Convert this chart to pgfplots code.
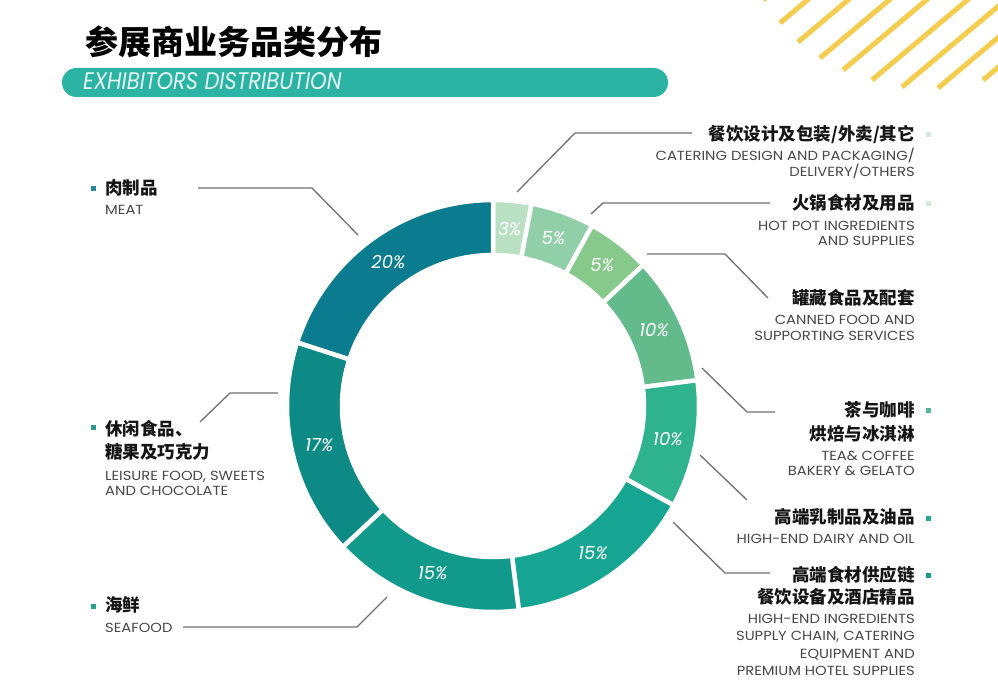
\documentclass[border=0pt]{standalone}
\usepackage{pgfplots}
\pgfplotsset{compat=1.18}
\usepackage{pgfplotstable}
\usepackage{fontspec}
\setmainfont{Poppins}
\newfontfamily\cjk{Noto Sans CJK SC}

\definecolor{seg1}{HTML}{B9E0C3}
\definecolor{seg2}{HTML}{91CFA9}
\definecolor{seg3}{HTML}{86C98A}
\definecolor{seg4}{HTML}{63BA8A}
\definecolor{seg5}{HTML}{2FB38F}
\definecolor{seg6}{HTML}{16A592}
\definecolor{seg7}{HTML}{119A8C}
\definecolor{seg8}{HTML}{0E8A86}
\definecolor{seg9}{HTML}{0B7B8F}
\definecolor{leader}{HTML}{707070}
\definecolor{bar}{HTML}{2BB3A4}
\definecolor{stripe}{HTML}{F4CD4E}
\definecolor{entxt}{HTML}{474747}
\definecolor{zhtxt}{HTML}{151515}

% share of exhibitors (%), clockwise from 12 o'clock
\pgfplotstableread{
cum pct col
0  3  seg1
3  5  seg2
8  5  seg3
13 10 seg4
23 10 seg5
33 15 seg6
48 15 seg7
63 17 seg8
80 20 seg9
}\shares

\newcommand\zh[1]{{\cjk\bfseries\fontsize{17.5}{22}\selectfont\color{zhtxt}#1}}
\newcommand\en[1]{{\scalebox{1.12}[1]{\fontsize{13.2}{16}\selectfont\color{entxt}#1}}}

% compute #1 = #2 with the fpu, result made global
\newcommand\fpset[2]{%
  \begingroup
    \pgfkeys{/pgf/fpu=true,/pgf/fpu/output format=fixed}%
    \pgfmathsetmacro\tmpv{#2}\xdef#1{\tmpv}%
  \endgroup}

\begin{document}
\begin{tikzpicture}[x=1pt,y=1pt]
\useasboundingbox (0,0) rectangle (998,681);

% yellow stripes, top right
\begin{scope}
  \clip (0,0) rectangle (998,681);
  \foreach \sx/\sy in {763/681,780/658,798/639,820/623,843/611,872/601,902/594,938/593,983/601}
    \draw[stripe, line width=5pt] (\sx,\sy) -- ++(40:300);
\end{scope}

% heading
\node[anchor=base west, inner sep=0] at (85,626)
  {\cjk\bfseries\fontsize{33}{33}\selectfont 参展商业务品类分布};
\fill[bar, rounded corners=14.5pt] (62,584) rectangle (668,613);
\node[anchor=base west, inner sep=0, text=white!88!bar] at (83,591)
  {\scalebox{0.88}[1]{\fontsize{24}{24}\selectfont\itshape EXHIBITORS DISTRIBUTION}};

% donut: each row is drawn as one ring segment; the point sits at
% (cum,pct) in data units of 1pt, so the segment is drawn back at (0,0)
\begin{axis}[
  at={(493pt,275pt)}, anchor=center,
  x=1pt, y=1pt,
  xmin=-204, xmax=204, ymin=-204, ymax=204,
  hide axis, clip=false,
]
\addplot[white, scatter, only marks, mark=*, mark size=0pt,
  point meta=explicit symbolic,
  visualization depends on={x\as\cum},
  visualization depends on={y\as\pc},
  scatter/@pre marker code/.code={
    \fpset\gpc{\pc}
    \fpset\gA{90-3.6*\cum}
    \fpset\gB{90-3.6*(\cum+\pc)}
    \fpset\gM{90-3.6*(\cum+\pc/2)}
    \fpset\oxA{-\cum+206*cos(\gA)}
    \fpset\oyA{-\pc+206*sin(\gA)}
    \fpset\ixB{-\cum+151*cos(\gB)}
    \fpset\iyB{-\pc+151*sin(\gB)}
    \fpset\mx{-\cum+178*cos(\gM)}
    \fpset\my{-\pc+178*sin(\gM)}
    \edef\segcol{\pgfplotspointmeta}
    \fill[fill=\segcol, draw=white, line width=4.5pt]
      (\oxA pt,\oyA pt) arc[start angle=\gA, end angle=\gB, radius=206pt]
      -- (\ixB pt,\iyB pt) arc[start angle=\gB, end angle=\gA, radius=151pt]
      -- cycle;
    \node[text=white, inner sep=0] at (\mx pt,\my pt)
      {\fontsize{18}{18}\selectfont\itshape
       \pgfmathprintnumber[fixed, precision=0, assume math mode=true]{\gpc}\%};
  },
  scatter/@post marker code/.code={},
] table[x=cum, y=pct, meta=col] {\shares};
\end{axis}

% leader lines
\begin{scope}[leader, line width=1.3pt]
  \draw (517,489) -- (575,548) -- (692,548);
  \draw (591,467) -- (603,478) -- (770,478);
  \draw (647,427) -- (725,427) -- (768,383);
  \draw (702,313) -- (747,269) -- (775,269);
  \draw (700,226) -- (747,181);
  \draw (673,159) -- (725,108) -- (770,108);
  \draw (358,446) -- (312,493) -- (198,493);
  \draw (200,259) -- (230,288) -- (278,288);
  \draw (387,84) -- (357,54) -- (183,54);
\end{scope}

% right labels
\begin{scope}[every node/.style={anchor=base east, inner sep=0}]
  \node at (915,540) {\zh{餐饮设计及包装/外卖/其它}};
  \node at (915,520) {\en{CATERING DESIGN AND PACKAGING/}};
  \node at (915,504) {\en{DELIVERY/OTHERS}};
  \node at (915,471) {\zh{火锅食材及用品}};
  \node at (915,450) {\en{HOT POT INGREDIENTS}};
  \node at (915,435) {\en{AND SUPPLIES}};
  \node at (915,376) {\zh{罐藏食品及配套}};
  \node at (915,356) {\en{CANNED FOOD AND}};
  \node at (915,341) {\en{SUPPORTING SERVICES}};
  \node at (915,265) {\zh{茶与咖啡}};
  \node at (915,241) {\zh{烘焙与冰淇淋}};
  \node at (915,221) {\en{TEA\& COFFEE}};
  \node at (915,206) {\en{BAKERY \& GELATO}};
  \node at (915,158) {\zh{高端乳制品及油品}};
  \node at (915,138) {\en{HIGH-END DAIRY AND OIL}};
  \node at (915,100) {\zh{高端食材供应链}};
  \node at (915,78)  {\zh{餐饮设备及酒店精品}};
  \node at (915,58)  {\en{HIGH-END INGREDIENTS}};
  \node at (915,41)  {\en{SUPPLY CHAIN, CATERING}};
  \node at (915,23)  {\en{EQUIPMENT AND}};
  \node at (915,6)   {\en{PREMIUM HOTEL SUPPLIES}};
\end{scope}

% left labels
\begin{scope}[every node/.style={anchor=base west, inner sep=0}]
  \node at (105,486) {\zh{肉制品}};
  \node at (105,466) {\en{MEAT}};
  \node at (105,246) {\zh{休闲食品、}};
  \node at (105,223) {\zh{糖果及巧克力}};
  \node at (105,201) {\en{LEISURE FOOD, SWEETS}};
  \node at (105,186) {\en{AND CHOCOLATE}};
  \node at (105,70)  {\zh{海鲜}};
  \node at (105,49)  {\en{SEAFOOD}};
\end{scope}

% bullets
\foreach \bx/\by/\bc in {928/546/D5EADB, 928/477/D5EADB, 928/271/55B891,
    928/163/2AA88F, 928/106/1A9C8C, 93/492/2A8A9A, 93/254/2A9A92, 93/75/2AA090}{
  \definecolor{bul}{HTML}{\bc}
  \fill[bul] (\bx-2.5,\by-2.5) rectangle (\bx+2.5,\by+2.5);
}
\end{tikzpicture}
\end{document}
